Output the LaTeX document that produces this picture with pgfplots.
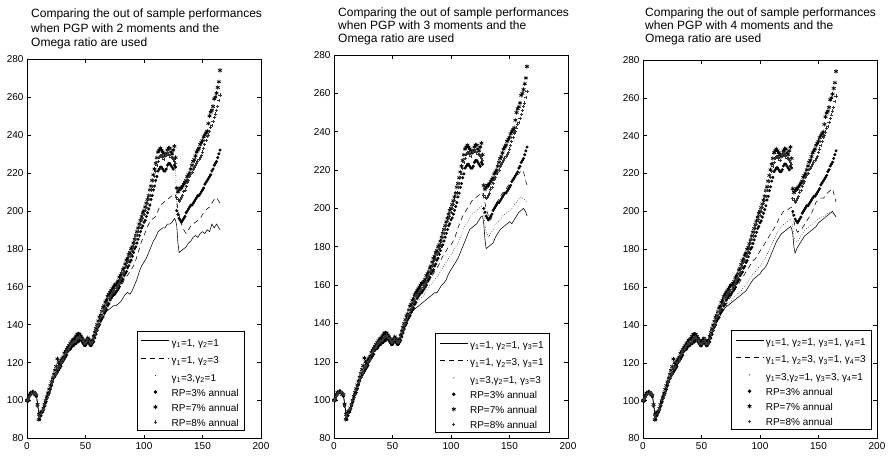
\documentclass[border=0pt]{standalone}
\usepackage{fontspec}
\setmainfont{Liberation Sans}
\usepackage{pgfplots}
\usepackage{pgfplotstable}
\pgfplotsset{compat=1.18}

% RP=3% (rpa), RP=7% (rpb), RP=8% (rpc)
\pgfplotstableread{
x rpa rpb rpc
0 100 100 100
2 102 103 102
4 104 104 104
6 104 104 104
8 102 103 103
10 93 90 92
12 92 94 93
14 95 96 96
16 99 100 100
18 103 104 103
20 106 108 107
22 110 112 110
24 113 116 114
26 115 122 117
28 117 119 118
30 120 122 121
32 122 125 124
34 124 127 126
36 127 129 128
38 128 131 130
40 129 132 131
42 130 134 132
44 131 135 133
46 132 134 133
48 130 132 131
50 129 131 130
52 131 133 132
54 129 131 130
56 130 132 131
58 133 136 135
60 137 140 139
62 140 144 142
64 143 147 145
66 146 150 148
68 148 153 151
70 151 156 154
72 154 158 156
74 156 160 158
76 157 161 159
78 159 163 161
80 162 166 164
82 164 169 167
84 167 172 170
86 170 175 173
88 173 178 176
90 176 181 179
92 180 185 183
94 183 189 187
96 187 193 191
98 191 197 195
100 194 200 198
102 197 204 202
104 201 208 206
106 206 213 211
108 211 219 216
110 216 225 221
112 221 231 226
114 223 233 229
116 222 231 228
118 221 229 230
120 224 232 231
122 225 233 229
124 223 230 228
126 224 234 226
128 200 212 207
130 196 211 205
132 194 212 207
134 196 214 210
136 199 216 213
138 201 219 216
140 203 222 219
142 204 226 222
144 206 229 224
146 208 232 226
148 209 235 228
150 211 237 231
152 214 240 235
154 216 242 239
156 218 250 242
158 221 253 245
160 224 259 249
162 226 262 253
164 230 268 258
165 232 274 261
1 101 100 101
3 103 104 103
5 105 104 104
7 104 103 104
9 97 98 97
11 90 92 91
13 94 94 95
15 97 98 98
17 101 102 101
19 104 106 105
21 108 110 109
23 112 114 112
25 114 118 115
27 116 120 117
29 118 121 120
31 121 123 122
33 123 126 125
35 126 128 127
37 127 130 129
39 129 132 130
41 130 133 131
43 131 135 133
45 132 135 134
47 131 133 132
49 129 131 130
51 130 132 131
53 130 132 131
55 129 131 130
57 131 134 133
59 135 138 137
61 139 142 140
63 142 145 144
65 144 149 147
67 147 152 149
69 150 155 152
71 153 157 155
73 155 159 157
75 156 161 158
77 158 162 160
79 160 165 162
81 163 167 165
83 166 170 168
85 168 174 171
87 171 177 174
89 174 180 177
91 178 183 181
93 181 187 185
95 185 191 189
97 189 195 193
99 192 199 196
101 195 202 200
103 199 206 204
105 203 211 208
107 208 216 213
109 213 222 218
111 218 228 224
113 222 232 228
115 223 232 229
117 221 230 227
119 222 230 229
121 225 233 230
123 224 231 228
125 222 232 227
127 223 228 225
129 198 210 206
131 195 212 206
133 195 213 208
135 197 215 211
137 200 218 215
139 202 220 218
141 203 224 220
143 205 227 223
145 207 231 225
147 208 233 227
149 210 236 229
151 212 239 233
153 215 241 237
155 217 246 240
157 219 252 244
159 222 255 247
161 225 260 251
163 228 265 255
}\rptable

\pgfplotstableread{
x s d o
0 100 100 100
2 102 102 102
4 104 104 104
6 104 104 104
8 103 103 102
10 94 94 93
12 93 93 92
14 96 96 95
16 99 99 99
18 103 103 103
20 106 106 106
22 110 110 110
24 113 113 113
26 116 116 115
28 117 117 117
30 120 120 120
32 123 123 122
34 125 125 124
36 127 127 127
38 129 129 128
40 130 130 129
42 131 131 130
44 132 132 131
46 133 133 132
48 131 131 130
50 130 130 129
52 132 132 131
54 130 130 129
56 131 131 130
58 134 134 133
60 137 137 136
62 140 141 139
64 143 144 142
66 145 147 145
68 147 150 147
70 148 152 150
72 149 154 153
74 150 155 155
76 150 156 156
78 151 158 158
80 152 160 161
82 154 162 163
84 156 165 166
86 157 166 169
88 156 168 172
90 158 170 175
92 161 172 179
94 164 176 182
96 168 180 186
98 171 184 190
100 173 187 193
102 175 190 196
104 178 193 200
106 181 195 205
108 184 196 210
110 186 197 215
112 189 200 220
114 190 203 222
116 191 204 221
118 191 205 220
120 193 206 223
122 193 207 224
124 194 208 222
126 196 209 223
127 195 208 222
128 192 205 199
129 183 201 197
130 178 198 195
132 179 193 193
134 180 190 195
136 181 188 198
138 183 190 200
140 184 192 202
142 186 193 203
144 187 194 205
146 186 195 207
148 188 196 208
150 189 198 210
152 188 200 213
154 190 201 215
156 189 202 217
158 193 204 220
160 191 206 223
162 193 207 225
164 191 205 229
165 190 204 231
}\panelone

\pgfplotstableread{
x s d o
0 100 100 100
2 102 102 102
4 104 104 104
6 104 104 104
8 103 103 102
10 94 94 93
12 93 93 92
14 96 96 95
16 99 99 99
18 103 103 103
20 106 106 106
22 110 110 110
24 113 113 113
26 116 116 115
28 117 117 117
30 120 120 120
32 123 123 122
34 125 125 124
36 127 127 127
38 129 129 128
40 130 130 129
42 131 131 130
44 132 132 131
46 133 133 132
48 131 131 130
50 130 130 129
52 132 132 131
54 130 130 129
56 131 131 130
58 134 134 133
60 137 137 136
62 140 141 139
64 143 144 143
66 145 147 146
68 147 150 148
70 148 152 150
72 149 154 152
74 150 155 153
76 151 157 154
78 152 159 156
80 153 161 158
82 154 163 160
84 155 165 161
86 156 167 163
88 156 169 164
90 158 171 166
92 160 174 168
94 161 176 170
96 163 178 172
98 166 180 174
100 168 181 176
102 170 183 178
104 172 186 180
106 174 190 182
108 177 193 185
110 180 196 188
112 183 198 191
114 186 200 193
116 189 202 195
118 190 204 197
120 191 205 198
122 192 206 199
124 194 207 200
126 196 208 201
127 196 208 200
128 192 205 197
129 184 203 192
130 179 200 188
132 180 196 185
134 181 194 187
136 182 198 189
138 185 202 192
140 187 204 193
142 189 206 194
144 190 208 196
146 191 209 197
148 192 211 198
150 193 213 199
152 192 214 200
154 194 215 202
156 196 217 203
158 198 218 205
160 199 220 206
162 200 219 205
164 198 214 204
165 196 212 203
}\paneltwo

\pgfplotstableread{
x s d o
0 100 100 100
2 102 102 102
4 104 104 104
6 104 104 104
8 103 103 102
10 94 94 93
12 93 93 92
14 96 96 95
16 99 99 99
18 103 103 103
20 106 106 106
22 110 110 110
24 113 113 113
26 116 116 115
28 117 117 117
30 120 120 120
32 123 123 122
34 125 125 124
36 127 127 127
38 129 129 128
40 130 130 129
42 131 131 130
44 132 132 131
46 133 133 132
48 131 131 130
50 130 130 129
52 132 132 131
54 130 130 129
56 131 131 130
58 134 134 133
60 137 137 136
62 140 141 139
64 143 144 143
66 145 146 145
68 147 148 147
70 149 150 149
72 150 152 151
74 151 154 152
76 152 156 153
78 153 158 155
80 154 160 156
82 155 162 157
84 156 164 158
86 157 166 160
88 158 168 161
90 160 170 163
92 162 172 165
94 164 174 167
96 165 175 168
98 166 177 170
100 167 179 171
102 169 181 173
104 170 183 175
106 172 185 177
108 175 187 180
110 178 189 183
112 181 191 185
114 184 193 188
116 186 196 190
118 188 198 192
120 189 200 193
122 190 200 194
124 191 201 195
126 192 202 196
127 191 202 195
128 188 199 192
129 181 195 187
130 178 192 184
132 181 189 184
134 183 190 186
136 185 191 188
138 187 193 190
140 188 195 191
142 189 197 192
144 190 199 193
146 191 202 194
148 192 205 195
150 194 206 196
152 195 207 197
154 196 207 197
156 197 208 198
158 198 210 199
160 199 211 200
162 200 212 199
164 198 207 198
165 197 205 197
}\panelthree

\pgfplotsset{
  panel/.style={
    anchor=south west, scale only axis, width=234pt,
    xmin=0, xmax=200, ymin=80, ymax=280,
    xtick={0,50,...,200}, ytick={80,100,...,280},
    tick align=inside, major tick length=4pt,
    tick style={black, line width=0.5pt},
    axis line style={line width=0.8pt},
    ticklabel style={font=\fontsize{10}{12}\selectfont},
    /pgf/number format/assume math mode=true,
    legend style={draw=black, line width=0.8pt, font=\fontsize{10}{12}\selectfont,
      cells={anchor=west}, row sep=0pt, inner xsep=4pt, inner ysep=1pt},
    legend cell align=left,
  },
  solidser/.style={black, line width=0.55pt,
    legend image code/.code={\draw[##1] (0pt,0pt) -- (28pt,0pt);}},
  dashser/.style={black, line width=0.55pt, dash pattern=on 5pt off 4pt,
    legend image code/.code={\draw[##1] (0pt,0pt) -- (28pt,0pt);}},
  dotser/.style={black, line width=0.5pt, dash pattern=on 0.6pt off 1.8pt,
    legend image code/.code={\fill[black] (14pt,0pt) circle (0.35pt);}},
  markser/.style={only marks,
    legend image code/.code={\draw[mark repeat=2,mark phase=2,##1] plot coordinates {(0pt,0pt) (14pt,0pt) (28pt,0pt)};}},
}
\newcommand{\gs}{\rule[-5pt]{0pt}{17pt}}
\newcommand{\rs}{\rule[-3.5pt]{0pt}{13pt}}

\newcommand{\rpplots}{%
  \addplot[markser, mark=*, mark size=1.3pt, black] table[x=x,y=rpa] {\rptable};
  \addplot[markser, mark=asterisk, mark size=2.2pt, black, mark options={line width=0.7pt}] table[x=x,y=rpb] {\rptable};
  \addplot[markser, mark=+, mark size=1.6pt, black!80, mark options={line width=0.7pt}] table[x=x,y=rpc] {\rptable};
}

\begin{document}
\begin{tikzpicture}
\path[use as bounding box] (0pt,0pt) rectangle (890pt,455pt);

\node[anchor=north west, align=left, inner sep=0pt, font=\fontsize{12}{14.5}\selectfont]
  at (31pt,446pt) {Comparing the out of sample performances\\when PGP with 2 moments and the\\Omega ratio are used};
\node[anchor=north west, align=left, inner sep=0pt, font=\fontsize{12}{13}\selectfont]
  at (338pt,447pt) {Comparing the out of sample performances\\when PGP with 3 moments and the\\Omega ratio are used};
\node[anchor=north west, align=left, inner sep=0pt, font=\fontsize{12}{13}\selectfont]
  at (645pt,447pt) {Comparing the out of sample performances\\when PGP with 4 moments and the\\Omega ratio are used};

% Panel 1
\begin{axis}[panel, at={(27pt,16.5pt)}, height=379.5pt,
  legend style={at={(0.932,0.02)}, anchor=south east}]
\addplot[solidser] table[x=x,y=s] {\panelone};
\addplot[dashser] table[x=x,y=d] {\panelone};
\addplot[dotser] table[x=x,y=o] {\panelone};
\rpplots
\legend{{\gs γ\textsubscript{1}=1, γ\textsubscript{2}=1},
        {\gs γ\textsubscript{1}=1, γ\textsubscript{2}=3},
        {\gs γ\textsubscript{1}=3,γ\textsubscript{2}=1},
        \rs RP=3\% annual, \rs RP=7\% annual, \rs RP=8\% annual}
\end{axis}

% Panel 2
\begin{axis}[panel, at={(334pt,16.5pt)}, height=383.5pt,
  legend style={at={(0.923,0.014)}, anchor=south east}]
\addplot[solidser] table[x=x,y=s] {\paneltwo};
\addplot[dashser] table[x=x,y=d] {\paneltwo};
\addplot[dotser] table[x=x,y=o] {\paneltwo};
\rpplots
\legend{{\gs γ\textsubscript{1}=1, γ\textsubscript{2}=1, γ\textsubscript{3}=1},
        {\gs γ\textsubscript{1}=1, γ\textsubscript{2}=3, γ\textsubscript{3}=1},
        {\gs γ\textsubscript{1}=3,γ\textsubscript{2}=1, γ\textsubscript{3}=3},
        \rs RP=3\% annual, \rs RP=7\% annual, \rs RP=8\% annual}
\end{axis}

% Panel 3
\begin{axis}[panel, at={(643pt,16.5pt)}, height=378.5pt,
  legend style={at={(0.979,0.022)}, anchor=south east}]
\addplot[solidser] table[x=x,y=s] {\panelthree};
\addplot[dashser] table[x=x,y=d] {\panelthree};
\addplot[dotser] table[x=x,y=o] {\panelthree};
\rpplots
\legend{{\gs γ\textsubscript{1}=1, γ\textsubscript{2}=1, γ\textsubscript{3}=1, γ\textsubscript{4}=1},
        {\gs γ\textsubscript{1}=1, γ\textsubscript{2}=3, γ\textsubscript{3}=1, γ\textsubscript{4}=3},
        {\gs γ\textsubscript{1}=3,γ\textsubscript{2}=1, γ\textsubscript{3}=3, γ\textsubscript{4}=1},
        \rs RP=3\% annual, \rs RP=7\% annual, \rs RP=8\% annual}
\end{axis}
\end{tikzpicture}
\end{document}
